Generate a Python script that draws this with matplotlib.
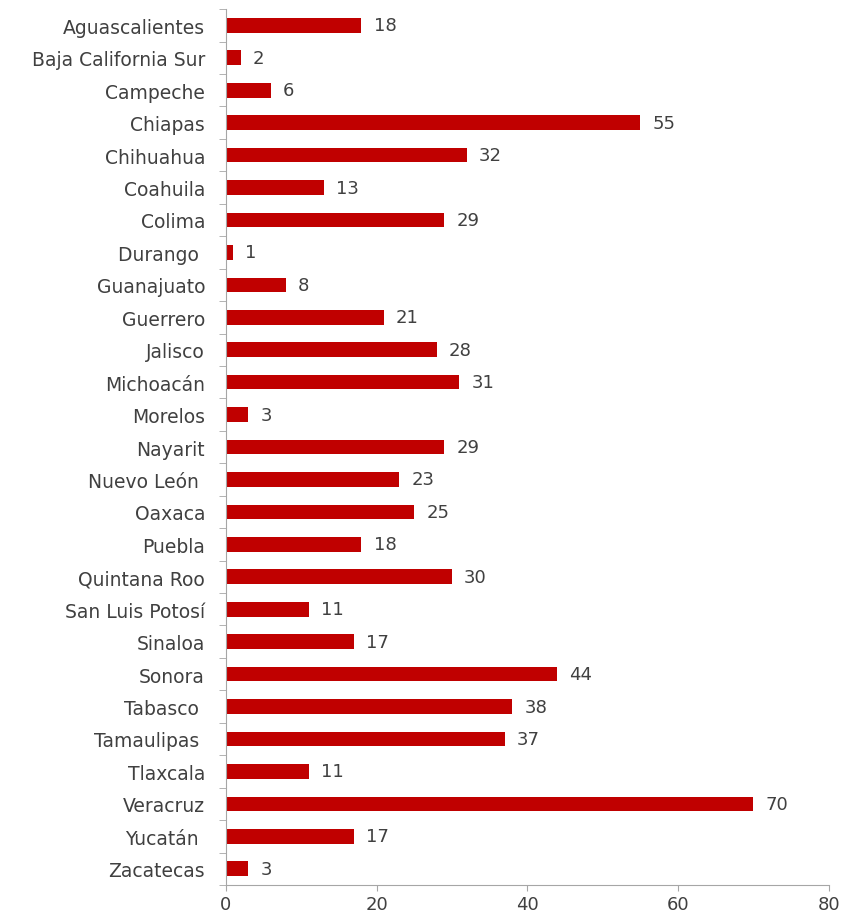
import matplotlib.pyplot as plt
import numpy as np

plt.rcParams['font.family'] = ['DejaVu Sans']

# datos
estados = ['Aguascalientes', 'Baja California Sur', 'Campeche', 'Chiapas', 'Chihuahua',
           'Coahuila', 'Colima', 'Durango ', 'Guanajuato', 'Guerrero', 'Jalisco',
           'Michoacán', 'Morelos', 'Nayarit', 'Nuevo León ', 'Oaxaca', 'Puebla',
           'Quintana Roo', 'San Luis Potosí', 'Sinaloa', 'Sonora', 'Tabasco ',
           'Tamaulipas ', 'Tlaxcala', 'Veracruz', 'Yucatán ', 'Zacatecas']
valores = [18, 2, 6, 55, 32, 13, 29, 1, 8, 21, 28, 31, 3, 29, 23, 25, 18, 30, 11,
           17, 44, 38, 37, 11, 70, 17, 3]

rojo = '#C00000'
gris = '#404040'

fig = plt.figure(figsize=(8.49, 9.2), dpi=100)
ax = fig.add_axes([0.266, 0.037, 0.71, 0.952])

y = np.arange(len(estados))
ax.barh(y, valores, height=0.45, color=rojo)
for yi, v in zip(y, valores):
    ax.text(v + 1.6, yi, str(v), va='center', ha='left', fontsize=13, color=gris)

ax.set_ylim(len(estados) - 0.5, -0.5)
ax.set_xlim(0, 80)
ax.set_xticks([0, 20, 40, 60, 80])
ax.set_yticks(y)
ax.set_yticklabels(estados)
ax.set_yticks(np.arange(len(estados) + 1) - 0.5, minor=True)
ax.tick_params(axis='y', which='major', length=0, pad=15, labelsize=13.5, labelcolor=gris)
ax.tick_params(axis='y', which='minor', length=5, color='#a6a6a6')
ax.tick_params(axis='x', length=4, color='#a6a6a6', labelsize=13, labelcolor=gris, pad=3)

for s in ['top', 'right']:
    ax.spines[s].set_visible(False)
for s in ['left', 'bottom']:
    ax.spines[s].set_color('#a6a6a6')

plt.savefig('out.png', dpi=100)
